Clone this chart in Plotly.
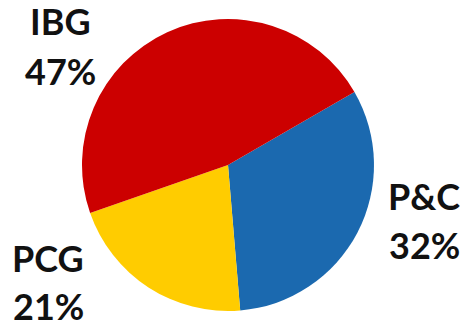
import plotly.graph_objects as go

labels = ["P&C", "PCG", "IBG"]
values = [32, 21, 47]
colors = ["#1B69AF", "#FFCC00", "#CC0000"]
# (x centre, y centre of name line, y centre of percent line) in pixels
label_pos = {"IBG": (60, 20, 70), "P&C": (424, 195, 244), "PCG": (48, 257, 305)}

W, H = 476, 328
fig = go.Figure(go.Pie(
    labels=labels, values=values, sort=False, direction="clockwise", rotation=60,
    marker=dict(colors=colors, line=dict(width=0)), textinfo="none", hoverinfo="label+percent",
    domain=dict(x=[82 / W, 374 / W], y=[(H - 311) / H, (H - 19) / H]),
))
total = sum(values)
font = dict(family="Lato", size=36, color="#111111", weight="bold")
for lab, val in zip(labels, values):
    px, py1, py2 = label_pos[lab]
    for txt, py in ((lab, py1), (f"{round(100 * val / total)}%", py2)):
        fig.add_annotation(
            x=px / W, y=1 - (py + 1) / H, xref="paper", yref="paper", showarrow=False,
            text=txt, xanchor="center", yanchor="middle", font=font,
        )
fig.update_layout(width=W, height=H, margin=dict(l=0, r=0, t=0, b=0),
                  showlegend=False, paper_bgcolor="white", plot_bgcolor="white")
fig.write_html("out.html")
